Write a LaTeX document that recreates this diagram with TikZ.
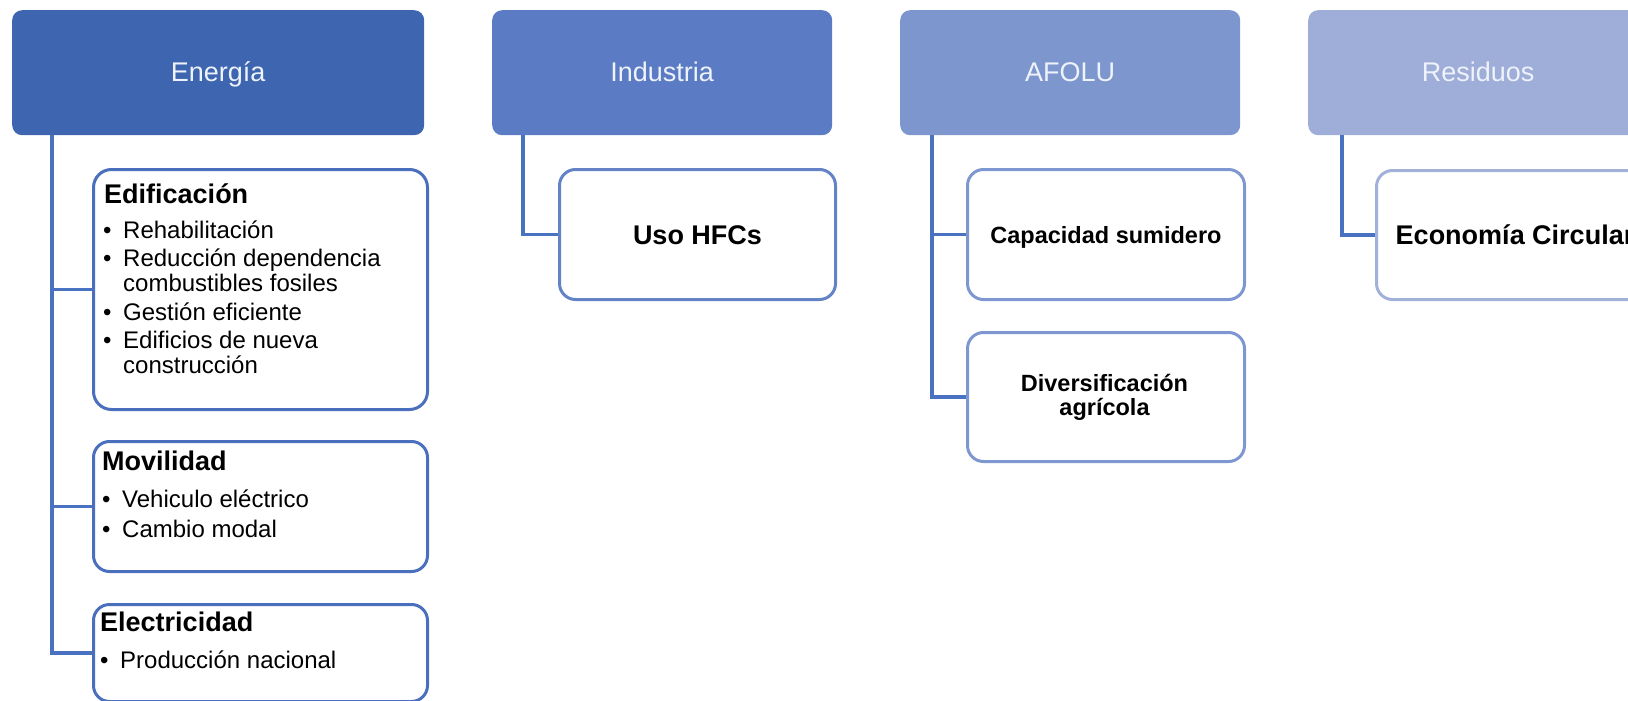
\documentclass[tikz,border=0pt]{standalone}
\usepackage{fontspec}
\setmainfont{Liberation Sans}
\definecolor{hdA}{HTML}{3E65B0}
\definecolor{hdB}{HTML}{5B7BC4}
\definecolor{hdC}{HTML}{7D96CE}
\definecolor{hdD}{HTML}{9FAED8}
\definecolor{bdA}{HTML}{4A6FBC}
\definecolor{bdB}{HTML}{6483C7}
\definecolor{bdC}{HTML}{7E97D0}
\definecolor{bdD}{HTML}{A2B1DA}
\definecolor{cn}{HTML}{4A72C2}
\definecolor{hdtxt}{HTML}{EEF2FA}
\newcommand{\bul}[1]{\makebox[20pt][l]{•}#1}
\newcommand{\cnt}[1]{\hspace*{20pt}#1}
\tikzset{
  hdr/.style={rectangle, rounded corners=10pt, minimum height=125pt, anchor=north west,
    inner sep=0pt, text=hdtxt, font=\fontsize{27}{30}\selectfont, text height=19pt, text depth=2pt},
  kid/.style={rectangle, rounded corners=16pt, draw, line width=3pt, fill=white,
    anchor=north west, inner sep=0pt},
  conn/.style={draw=cn, line width=3.6pt},
  boldc/.style={font=\bfseries\fontsize{27}{30}\selectfont, text height=19.3pt, text depth=0pt},
  boldsm/.style={font=\bfseries\fontsize{23.5}{24}\selectfont, text height=17pt, text depth=0pt},
  headtxt/.style={anchor=base west, inner sep=0pt, font=\bfseries\fontsize{27}{30}\selectfont},
  listtxt/.style={anchor=base west, inner sep=0pt, font=\fontsize{24}{25}\selectfont},
}
\begin{document}
\begin{tikzpicture}[x=1pt,y=-1pt]
\useasboundingbox (0,0) rectangle (1628,701);
% headers
\node[hdr, fill=hdA, minimum width=412pt] (ene) at (12,10) {Energía};
\node[hdr, fill=hdB, minimum width=340pt] (ind) at (492,10) {Industria};
\node[hdr, fill=hdC, minimum width=340pt] (afo) at (900,10) {AFOLU};
\node[hdr, fill=hdD, minimum width=340pt] (res) at (1308,10) {Residuos};
% connectors (drawn under the boxes)
\coordinate (eneR) at ([xshift=40pt]ene.south west);
\coordinate (indR) at ([xshift=31pt]ind.south west);
\coordinate (afoR) at ([xshift=32pt]afo.south west);
\coordinate (resR) at ([xshift=34pt]res.south west);
% Energía children
\node[kid, draw=bdA, minimum width=334pt, minimum height=240pt, rounded corners=18pt] (edif) at (92,168) {};
\node[kid, draw=bdA, minimum width=334pt, minimum height=130pt] (movi) at (92,440) {};
\node[kid, draw=bdA, minimum width=334pt, minimum height=97pt] (elec) at (92,603) {};
\draw[conn] (eneR) |- (edif.west);
\draw[conn] (eneR) |- (movi.west);
\draw[conn] (eneR) |- (elec.west);
\node[headtxt] (edifh) at (104,203) {Edificación};
\node[listtxt] (edifl) at (103,238) {\parbox[t]{315pt}{\raggedright
  \bul{Rehabilitación}\\[3.5pt]
  \bul{Reducción dependencia}\\
  \cnt{combustibles fosiles}\\[3.5pt]
  \bul{Gestión eficiente}\\[3.5pt]
  \bul{Edificios de nueva}\\
  \cnt{construcción}}};
\node[headtxt] (movih) at (102,470) {Movilidad};
\node[listtxt] (movil) at (102,507) {\parbox[t]{315pt}{\raggedright
  \bul{Vehiculo eléctrico}\\[5pt]
  \bul{Cambio modal}}};
\node[headtxt] (elech) at (100,631) {Electricidad};
\node[listtxt] (elecl) at (100,668) {\bul{Producción nacional}};
% Industria
\node[kid, draw=bdB, minimum width=276pt, minimum height=130pt, boldc] (uso) at (558,168) {Uso HFCs};
\draw[conn] (indR) |- (uso.west);
% AFOLU
\node[kid, draw=bdC, minimum width=277pt, minimum height=130pt, boldsm] (cap) at (966,168) {Capacidad sumidero};
\node[kid, draw=bdC, minimum width=277pt, minimum height=129pt] (div) at (966,331) {};
\draw[conn] (afoR) |- (cap.west);
\draw[conn] (afoR) |- (div.west);
\node[anchor=base, inner sep=0pt, font=\bfseries\fontsize{23.5}{24}\selectfont] (divt) at (1104.5,391)
  {\parbox[t]{250pt}{\centering Diversificación\\agrícola}};
% Residuos
\node[kid, draw=bdD, minimum width=277pt, minimum height=129pt, boldc] (eco) at (1375,169) {Economía Circular};
\draw[conn] (resR) |- (eco.west);
\end{tikzpicture}
\end{document}
